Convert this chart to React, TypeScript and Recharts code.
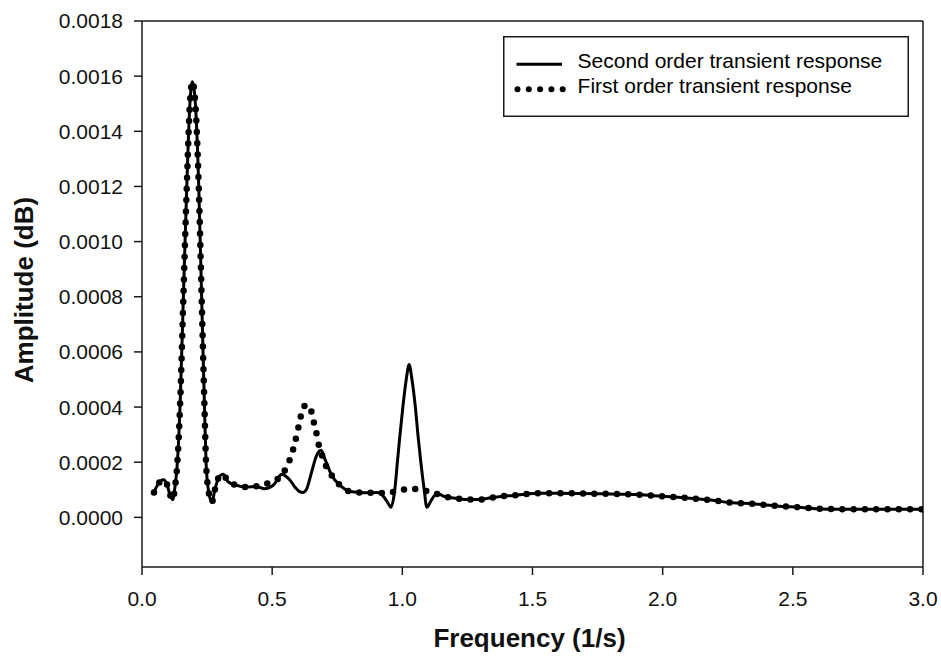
import { LineChart, Line, XAxis, YAxis, ReferenceLine, Legend, Label } from 'recharts'

// shared frequency grid (1/s)
const freq = [
  0.046, 0.06, 0.082, 0.095, 0.105, 0.118, 0.126, 0.136, 0.146, 0.159, 0.172, 0.184, 0.193, 0.205,
  0.218, 0.229, 0.24, 0.246, 0.255, 0.268, 0.28, 0.295, 0.312, 0.33, 0.358, 0.4, 0.44, 0.47, 0.49,
  0.51, 0.52, 0.537, 0.558, 0.575, 0.587, 0.597, 0.607, 0.617, 0.632, 0.646, 0.656, 0.668, 0.676,
  0.688, 0.703, 0.73, 0.762, 0.8, 0.864, 0.902, 0.93, 0.946, 0.956, 0.971, 0.981, 0.99, 1.002,
  1.015, 1.026, 1.037, 1.05, 1.061, 1.071, 1.084, 1.094, 1.11, 1.133, 1.158, 1.209, 1.254, 1.296,
  1.34, 1.385, 1.427, 1.472, 1.517, 1.604, 1.69, 1.779, 1.863, 1.907, 1.997, 2.087, 2.176, 2.26,
  2.349, 2.439, 2.522, 2.612, 2.733, 2.862, 3.0
]

const secondOrder = [
  0.00009, 0.000118, 0.000136, 0.000122, 0.00009, 0.000064, 0.000105, 0.0002, 0.0004, 0.0008,
  0.0012, 0.0015, 0.00158, 0.0015, 0.0012, 0.0008, 0.0004, 0.0002, 0.0001, 0.000055, 0.0001,
  0.000145, 0.000156, 0.00013, 0.000118, 0.00011, 0.000112, 0.000104, 0.000108, 0.000122,
  0.000138, 0.000156, 0.000145, 0.000127, 0.00011, 0.0001, 0.000092, 0.00009, 0.000102,
  0.000145, 0.00018, 0.000218, 0.000234, 0.000243, 0.00021, 0.00015, 0.000115, 0.000094,
  0.000089, 0.00009, 0.000073, 0.00005, 0.0000365, 0.0001, 0.0002, 0.00029, 0.0004, 0.0005,
  0.000554, 0.0005, 0.0004, 0.00029, 0.0002, 0.0001, 0.0000365, 0.00006, 0.0000876, 0.0000766,
  0.000069, 0.0000646, 0.0000646, 0.0000708, 0.0000766, 0.0000792, 0.000084, 0.0000876,
  0.0000876, 0.0000865, 0.0000854, 0.000084, 0.0000825, 0.0000766, 0.0000708, 0.0000635,
  0.0000536, 0.0000489, 0.0000416, 0.0000365, 0.0000307, 0.0000292, 0.000029, 0.000029
]

const firstOrder = [
  0.00009, 0.000118, 0.000136, 0.000122, 0.00009, 0.000064, 0.000105, 0.0002, 0.0004, 0.0008,
  0.0012, 0.0015, 0.00158, 0.0015, 0.0012, 0.0008, 0.0004, 0.0002, 0.0001, 0.000055, 0.0001,
  0.000145, 0.000156, 0.00013, 0.000118, 0.00011, 0.000113, 0.00012, 0.000126, 0.000133,
  0.000138, 0.000152, 0.000189, 0.000228, 0.00027, 0.00031, 0.000353, 0.000394, 0.000408,
  0.0004, 0.000358, 0.000316, 0.000274, 0.000235, 0.000195, 0.00015, 0.000115, 0.000094,
  0.000089, 0.00009, 0.000088, 0.000088, 0.00009, 0.000094, 0.000096, 0.0000975, 0.0001,
  0.000103, 0.000104, 0.000104, 0.000103, 0.000102, 0.000101, 0.000099, 0.000095, 0.00009,
  0.000085, 0.0000766, 0.000069, 0.0000646, 0.0000646, 0.0000708, 0.0000766, 0.0000792,
  0.000084, 0.0000876, 0.0000876, 0.0000865, 0.0000854, 0.000084, 0.0000825, 0.0000766,
  0.0000708, 0.0000635, 0.0000536, 0.0000489, 0.0000416, 0.0000365, 0.0000307, 0.0000292,
  0.000029, 0.000029
]

const xTicks = [0, 0.5, 1.0, 1.5, 2.0, 2.5, 3.0]
const yTicks = [0, 0.0002, 0.0004, 0.0006, 0.0008, 0.001, 0.0012, 0.0014, 0.0016, 0.0018]

const SERIES_NAMES = ['Second order transient response', 'First order transient response']

const FONT = '"Liberation Sans", Arial, sans-serif'
const AXIS_COLOR = '#1a1a1a'

const data = freq.map((f, i) => ({ freq: f, second: secondOrder[i], first: firstOrder[i] }))

function LegendBox() {
  return (
    <svg width={406} height={81} style={{ display: 'block', fontFamily: FONT }}>
      <rect x={0.75} y={0.75} width={404.5} height={79.5} fill="#fff" stroke={AXIS_COLOR} strokeWidth={1.5} />
      <line x1={13.5} x2={59} y1={28.3} y2={28.3} stroke="#000" strokeWidth={3} />
      <text x={74.6} y={32.3} fontSize={21} fill="#000">{SERIES_NAMES[0]}</text>
      {[0, 1, 2, 3, 4].map(i => (
        <circle key={i} cx={14.5 + i * 11.3} cy={53.3} r={3} fill="#000" />
      ))}
      <text x={74.6} y={57.3} fontSize={21} fill="#000">{SERIES_NAMES[1]}</text>
    </svg>
  )
}

export default function App() {
  return (
    <div style={{ position: 'absolute', left: 0, top: 0, background: '#fff' }}>
      <LineChart width={941} height={660} data={data} margin={{ top: 21, right: 18, left: 0, bottom: 0 }}>
        <XAxis
          dataKey="freq"
          type="number"
          domain={[0, 3]}
          ticks={xTicks}
          tickFormatter={(v: number) => v.toFixed(1)}
          height={93}
          tickSize={8}
          tickMargin={16}
          stroke={AXIS_COLOR}
          strokeWidth={1.5}
          tick={{ fill: '#111', fontSize: 21, fontFamily: FONT }}
          allowDataOverflow
        >
          <Label
            content={({ viewBox }: any) => (
              <text
                x={viewBox.x + viewBox.width / 2 - 3}
                y={646.5}
                textAnchor="middle"
                fontSize={26}
                fontWeight="bold"
                fontFamily={FONT}
                fill="#111"
              >
                Frequency (1/s)
              </text>
            )}
          />
        </XAxis>
        <YAxis
          type="number"
          domain={[-0.00018, 0.0018]}
          ticks={yTicks}
          tickFormatter={(v: number) => v.toFixed(4)}
          width={142}
          tickSize={8}
          tickMargin={11}
          stroke={AXIS_COLOR}
          strokeWidth={1.5}
          tick={{ fill: '#111', fontSize: 21, fontFamily: FONT }}
          allowDataOverflow
        >
          <Label
            content={({ viewBox }: any) => {
              const cy = viewBox.y + viewBox.height / 2 - 4
              return (
                <text
                  x={24}
                  y={cy}
                  transform={`rotate(-90 24 ${cy})`}
                  textAnchor="middle"
                  dominantBaseline="central"
                  fontSize={26}
                  fontWeight="bold"
                  fontFamily={FONT}
                  fill="#111"
                >
                  Amplitude (dB)
                </text>
              )
            }}
          />
        </YAxis>
        <ReferenceLine y={0.0018} stroke={AXIS_COLOR} strokeWidth={1.5} />
        <ReferenceLine x={3} stroke={AXIS_COLOR} strokeWidth={1.5} />
        <Legend
          layout="vertical"
          align="center"
          verticalAlign="middle"
          wrapperStyle={{ left: 502.5, top: 35.5, width: 406, height: 81 }}
          content={() => <LegendBox />}
        />
        <Line
          dataKey="second"
          name={SERIES_NAMES[0]}
          type="monotone"
          stroke="#000"
          strokeWidth={3}
          strokeLinejoin="round"
          dot={false}
          activeDot={false}
          isAnimationActive={false}
        />
        <Line
          dataKey="first"
          name={SERIES_NAMES[1]}
          type="monotone"
          stroke="#000"
          strokeWidth={6.5}
          strokeDasharray="0 11.3"
          strokeLinecap="round"
          dot={false}
          activeDot={false}
          isAnimationActive={false}
        />
      </LineChart>
    </div>
  )
}
